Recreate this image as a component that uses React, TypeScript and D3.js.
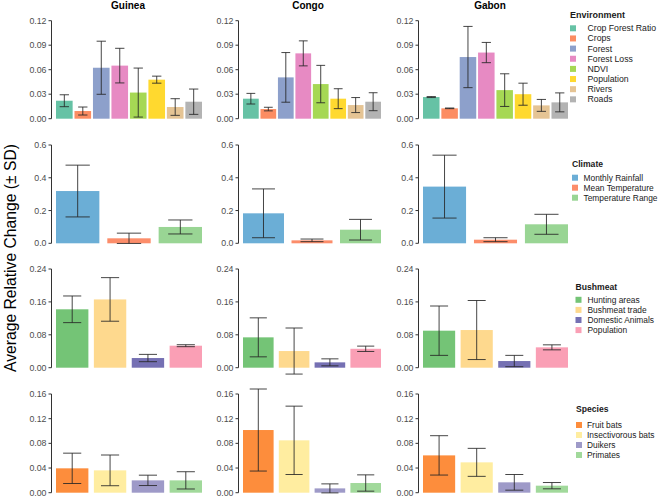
import React from "react";
import * as d3 from "d3";

const countries = ["Guinea", "Congo", "Gabon"];

// Environment
const envCategories = ["Crop Forest Ratio", "Crops", "Forest", "Forest Loss", "NDVI", "Population", "Rivers", "Roads"];
const envColors = ["#66c2a5", "#fc8d62", "#8da0cb", "#e78ac3", "#a6d854", "#ffd92f", "#e5c494", "#b3b3b3"];
const envGuineaMean = [0.022, 0.0094, 0.0624, 0.065, 0.032, 0.0478, 0.0143, 0.0208];
const envGuineaSd = [0.0073, 0.0049, 0.0325, 0.0212, 0.03, 0.0043, 0.0102, 0.0155];
const envCongoMean = [0.0245, 0.0118, 0.0506, 0.08, 0.0424, 0.0245, 0.0167, 0.0208];
const envCongoSd = [0.0065, 0.0022, 0.0304, 0.0153, 0.0229, 0.0122, 0.0092, 0.011];
const envGabonMean = [0.0265, 0.0127, 0.0755, 0.081, 0.035, 0.03, 0.0163, 0.02];
const envGabonSd = [0.0006, 0.0004, 0.0375, 0.0124, 0.02, 0.0135, 0.0073, 0.0116];
const envTicks = [0, 0.03, 0.06, 0.09, 0.12];

// Climate
const climCategories = ["Monthly Rainfall", "Mean Temperature", "Temperature Range"];
const climColors = ["#6baed6", "#fc8d6a", "#99d594"];
const climGuineaMean = [0.319, 0.0305, 0.0997];
const climGuineaSd = [0.158, 0.0315, 0.0427];
const climCongoMean = [0.183, 0.018, 0.083];
const climCongoSd = [0.149, 0.008, 0.063];
const climGabonMean = [0.346, 0.022, 0.116];
const climGabonSd = [0.192, 0.012, 0.061];
const climTicks = [0, 0.2, 0.4, 0.6];

// Bushmeat
const bushCategories = ["Hunting areas", "Bushmeat trade", "Domestic Animals", "Population"];
const bushColors = ["#74c476", "#fed98e", "#7570b3", "#fa9fb5"];
const bushGuineaMean = [0.142, 0.166, 0.0235, 0.0535];
const bushGuineaSd = [0.0324, 0.053, 0.0089, 0.0024];
const bushCongoMean = [0.0738, 0.0405, 0.013, 0.046];
const bushCongoSd = [0.0474, 0.056, 0.0085, 0.0065];
const bushGabonMean = [0.09, 0.0916, 0.0162, 0.0495];
const bushGabonSd = [0.06, 0.0718, 0.0138, 0.0061];
const bushTicks = [0, 0.08, 0.16, 0.24];

// Species
const specCategories = ["Fruit bats", "Insectivorous bats", "Duikers", "Primates"];
const specColors = ["#fd8d3c", "#ffeda0", "#9e9ac8", "#a1d99b"];
const specGuineaMean = [0.0395, 0.0362, 0.02, 0.02];
const specGuineaSd = [0.0246, 0.0249, 0.0084, 0.014];
const specCongoMean = [0.1016, 0.0849, 0.007, 0.0157];
const specCongoSd = [0.0665, 0.0554, 0.0073, 0.0132];
const specGabonMean = [0.0605, 0.0492, 0.0168, 0.0114];
const specGabonSd = [0.0319, 0.0227, 0.0127, 0.0051];
const specTicks = [0, 0.04, 0.08, 0.12, 0.16];

const FONT = "'Liberation Sans', Arial, Helvetica, sans-serif";

type RowSpec = {
  title: string;
  categories: string[];
  colors: string[];
  means: number[][];
  sds: number[][];
  ticks: number[];
  fmt: string;
  yTop: number;
  y0: number;
  pad: number;
  legend: { tx: number; ty: number; kx: number; textX: number; iy: number; step: number };
};

const rows: RowSpec[] = [
  {
    title: "Environment", categories: envCategories, colors: envColors,
    means: [envGuineaMean, envCongoMean, envGabonMean], sds: [envGuineaSd, envCongoSd, envGabonSd],
    ticks: envTicks, fmt: ".2f", yTop: 20.7, y0: 118.7, pad: 0.1,
    legend: { tx: 570, ty: 18, kx: 570, textX: 587.5, iy: 28.3, step: 10.15 },
  },
  {
    title: "Climate", categories: climCategories, colors: climColors,
    means: [climGuineaMean, climCongoMean, climGabonMean], sds: [climGuineaSd, climCongoSd, climGabonSd],
    ticks: climTicks, fmt: ".1f", yTop: 145, y0: 243.3, pad: 0.155,
    legend: { tx: 572, ty: 167, kx: 572, textX: 583.5, iy: 177.7, step: 10 },
  },
  {
    title: "Bushmeat", categories: bushCategories, colors: bushColors,
    means: [bushGuineaMean, bushCongoMean, bushGabonMean], sds: [bushGuineaSd, bushCongoSd, bushGabonSd],
    ticks: bushTicks, fmt: ".2f", yTop: 269, y0: 367.7, pad: 0.145,
    legend: { tx: 575.5, ty: 289.5, kx: 575.5, textX: 587.5, iy: 299.8, step: 10.1 },
  },
  {
    title: "Species", categories: specCategories, colors: specColors,
    means: [specGuineaMean, specCongoMean, specGabonMean], sds: [specGuineaSd, specCongoSd, specGabonSd],
    ticks: specTicks, fmt: ".2f", yTop: 394, y0: 492.7, pad: 0.145,
    legend: { tx: 576, ty: 411.5, kx: 576, textX: 587, iy: 425, step: 10 },
  },
];

const panelX: [number, number][] = [
  [56, 202],
  [243, 381],
  [423, 568],
];
const titleX = [128, 308, 490];

function Panel({ row, ci }: { row: RowSpec; ci: number }) {
  const [x0, x1] = panelX[ci];
  const x = d3.scaleBand<string>().domain(row.categories).range([x0, x1]).paddingInner(row.pad).paddingOuter(0);
  const maxV = row.ticks[row.ticks.length - 1];
  const y = d3.scaleLinear().domain([0, maxV]).range([row.y0, row.yTop]);
  const fmt = d3.format(row.fmt);
  const axisX = x0 - 4.5;
  const bw = x.bandwidth();
  const cap = bw * 0.56;
  return (
    <g>
      {row.categories.map((c, i) => {
        const m = row.means[ci][i];
        const bx = x(c)!;
        return (
          <g key={c}>
            <rect x={bx} y={y(m)} width={bw} height={y(0) - y(m)} fill={row.colors[i]} />
          </g>
        );
      })}
      {row.categories.map((c, i) => {
        const m = row.means[ci][i];
        const s = row.sds[ci][i];
        const cx = x(c)! + bw / 2;
        const yHi = y(m + s);
        const yLo = y(m - s);
        return (
          <g key={c} stroke="#262626" strokeWidth={1} strokeOpacity={0.85}>
            <line x1={cx} x2={cx} y1={yHi} y2={yLo} />
            <line x1={cx - cap / 2} x2={cx + cap / 2} y1={yHi} y2={yHi} />
            <line x1={cx - cap / 2} x2={cx + cap / 2} y1={yLo} y2={yLo} />
          </g>
        );
      })}
      <line x1={axisX} x2={axisX} y1={y(maxV)} y2={y(0)} stroke="#333" strokeWidth={1} />
      {row.ticks.map((t) => (
        <g key={t}>
          <line x1={axisX - 3} x2={axisX} y1={y(t)} y2={y(t)} stroke="#333" strokeWidth={1} />
          <text x={axisX - 5} y={y(t)} dy="0.35em" textAnchor="end" fontSize={8.8} fill="#4d4d4d" fontFamily={FONT}>
            {fmt(t)}
          </text>
        </g>
      ))}
    </g>
  );
}

function Legend({ row }: { row: RowSpec }) {
  const L = row.legend;
  const ks = 6;
  return (
    <g fontFamily={FONT}>
      <text x={L.tx} y={L.ty} fontSize={row.title === "Environment" ? 9 : 8.6} fontWeight="bold" fill="#1a1a1a">
        {row.title}
      </text>
      {row.categories.map((c, i) => {
        const cy = L.iy + i * L.step;
        return (
          <g key={c}>
            <rect x={L.kx} y={cy - ks / 2} width={ks} height={ks} fill={row.colors[i]} />
            <text x={L.textX} y={cy} dy="0.35em" fontSize={row.title === "Environment" ? 8.7 : 8.4} fill="#1a1a1a">
              {c}
            </text>
          </g>
        );
      })}
    </g>
  );
}

export default function App() {
  return (
    <svg width={660} height={497} style={{ position: "absolute", left: 0, top: 0, background: "#fff" }}>
      <rect width={660} height={497} fill="#fff" />
      {countries.map((c, i) => (
        <text key={c} x={titleX[i]} y={9} textAnchor="middle" fontSize={10} fontWeight="bold" fontFamily={FONT} fill="#000">
          {c}
        </text>
      ))}
      {rows.map((row, ri) => (
        <g key={ri}>
          {countries.map((c, ci) => (
            <Panel key={c} row={row} ci={ci} />
          ))}
          <Legend row={row} />
        </g>
      ))}
      <text
        transform="translate(15.5,258) rotate(-90)"
        textAnchor="middle"
        fontSize={15.7}
        fontFamily={FONT}
        fill="#000"
      >
        Average Relative Change (± SD)
      </text>
    </svg>
  );
}
